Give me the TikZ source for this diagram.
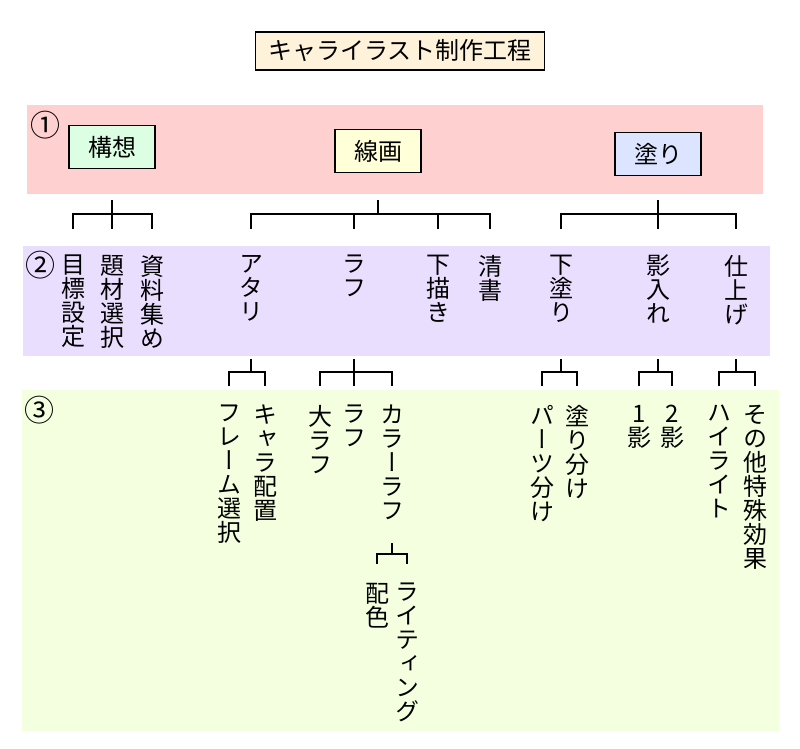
\documentclass[tikz,border=0pt]{standalone}
\usepackage{fontspec}
\newfontfamily\jpfont{Noto Sans CJK JP}
\newfontfamily\tatefont{Noto Sans CJK JP}[RawFeature=+vert]
\definecolor{pinkband}{HTML}{FFD0D0}
\definecolor{lilacband}{HTML}{EADEFF}
\definecolor{limeband}{HTML}{F4FFE0}
\definecolor{titlefill}{HTML}{FFF2DA}
\definecolor{kousoufill}{HTML}{DCFFE4}
\definecolor{sengafill}{HTML}{FFFFD8}
\definecolor{nurifill}{HTML}{DCE4FF}
\tikzset{
  stagebox/.style={draw, line width=1.4pt, minimum width=86pt, minimum height=43pt, inner sep=0pt, font=\jpfont\fontsize{24}{24}\selectfont},
  tate/.style={anchor=north, align=center, inner sep=0pt, font=\tatefont\fontsize{24}{24}\selectfont},
  num/.style={inner sep=0pt, font=\jpfont\fontsize{30}{30}\selectfont},
  tree/.style={line width=1.3pt}
}
\begin{document}
\begin{tikzpicture}[x=1pt, y=-1pt]
            \useasboundingbox (0,0) rectangle (800,749);
            \fill [pinkband] (27,105) rectangle (763,194);
            \fill [lilacband] (23,246) rectangle (770,356);
            \fill [limeband] (22,390) rectangle (779,731);
            \node [stagebox, fill=titlefill, minimum width=289pt, minimum height=38pt] (title) at (400,51) {キャライラスト制作工程};
            \node [num] (n1) at (45,125) {①};
            \node [num] (n2) at (40,265) {②};
            \node [num] (n3) at (39,410) {③};
            \node [stagebox, fill=kousoufill] (kousou) at (112,147) {構想};
            \node [stagebox, fill=sengafill] (senga) at (378,151) {線画};
            \node [stagebox, fill=nurifill] (nuri) at (658,154) {塗り};
            \coordinate (top1) at (0,200);
            \coordinate (bar1) at (0,214);
            \coordinate (low1) at (0,229);
            \coordinate (top2) at (0,359);
            \coordinate (bar2) at (0,372);
            \coordinate (low2) at (0,386);
            \coordinate (top3) at (0,543);
            \coordinate (bar3) at (0,554);
            \coordinate (low3) at (0,564);
            % row 2
            \node [tate] (mokuhyou) at (73,255) {目\\標\\設\\定};
            \node [tate] (daizai) at (112,255) {題\\材\\選\\択};
            \node [tate] (shiryou) at (152,255) {資\\料\\集\\め};
            \node [tate] (atari) at (251,255) {ア\\タ\\リ};
            \node [tate] (rafu) at (354,255) {ラ\\フ};
            \node [tate] (shitagaki) at (438,255) {下\\描\\き};
            \node [tate] (seisho) at (490,255) {清\\書};
            \node [tate] (shitanuri) at (561,255) {下\\塗\\り};
            \node [tate] (kageire) at (658,255) {影\\入\\れ};
            \node [tate] (shiage) at (736,255) {仕\\上\\げ};
            % row 3
            \node [tate] (frame) at (229,405) {フ\\レ\\ー\\ム\\選\\択};
            \node [tate] (chara) at (265,405) {キ\\ャ\\ラ\\配\\置};
            \node [tate] (oorafu) at (320,405) {大\\ラ\\フ};
            \node [tate] (rafutwo) at (354,405) {ラ\\フ};
            \node [tate] (color) at (392,405) {カ\\ラ\\ー\\ラ\\フ};
            \node [tate] (haishoku) at (377,583) {配\\色};
            \node [tate] (lighting) at (407,583) {ラ\\イ\\テ\\ィ\\ン\\グ};
            \node [tate] (parts) at (542,405) {パ\\ー\\ツ\\分\\け};
            \node [tate] (nuriwake) at (577,405) {塗\\り\\分\\け};
            \node [tate] (kageone) at (639,405) {1\\影};
            \node [tate] (kagetwo) at (672,405) {2\\影};
            \node [tate] (highlight) at (719,405) {ハ\\イ\\ラ\\イ\\ト};
            \node [tate] (sonota) at (755,405) {そ\\の\\他\\特\\殊\\効\\果};
            % row 1 to row 2
            \draw [tree] (kousou |- top1) -- (kousou |- low1);
            \draw [tree] (mokuhyou |- low1) -- (mokuhyou |- bar1) -- (shiryou |- bar1) -- (shiryou |- low1);
            \draw [tree] (senga |- top1) -- (senga |- bar1);
            \draw [tree] (atari |- low1) -- (atari |- bar1) -- (seisho |- bar1) -- (seisho |- low1);
            \draw [tree] (rafu |- bar1) -- (rafu |- low1);
            \draw [tree] (shitagaki |- bar1) -- (shitagaki |- low1);
            \draw [tree] (nuri |- top1) -- (nuri |- low1);
            \draw [tree] (shitanuri |- low1) -- (shitanuri |- bar1) -- (shiage |- bar1) -- (shiage |- low1);
            % row 2 to row 3
            \draw [tree] (atari |- top2) -- (atari |- bar2);
            \draw [tree] (frame |- low2) -- (frame |- bar2) -- (chara |- bar2) -- (chara |- low2);
            \draw [tree] (rafu |- top2) -- (rafu |- low2);
            \draw [tree] (oorafu |- low2) -- (oorafu |- bar2) -- (color |- bar2) -- (color |- low2);
            \draw [tree] (color |- top3) -- (color |- bar3);
            \draw [tree] (haishoku |- low3) -- (haishoku |- bar3) -- (lighting |- bar3) -- (lighting |- low3);
            \draw [tree] (shitanuri |- top2) -- (shitanuri |- bar2);
            \draw [tree] (parts |- low2) -- (parts |- bar2) -- (nuriwake |- bar2) -- (nuriwake |- low2);
            \draw [tree] (kageire |- top2) -- (kageire |- bar2);
            \draw [tree] (kageone |- low2) -- (kageone |- bar2) -- (kagetwo |- bar2) -- (kagetwo |- low2);
            \draw [tree] (shiage |- top2) -- (shiage |- bar2);
            \draw [tree] (highlight |- low2) -- (highlight |- bar2) -- (sonota |- bar2) -- (sonota |- low2);
        \end{tikzpicture}
\end{document}
